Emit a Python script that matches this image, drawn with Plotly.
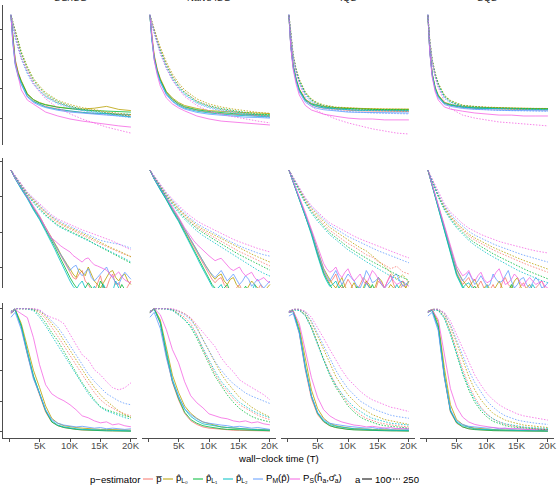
import plotly.graph_objects as go

# ---------------- data ----------------
SAMPLERS = ["SG/ISG", "Naive ISG", "IQS", "SQS"]
ESTIMATORS = ["p̅", "p̂<sub>L₀</sub>", "p̂<sub>L₁</sub>", "p̂<sub>L₂</sub>",
              "P<sub>M</sub>(p̂)", "P<sub>S</sub>(ĥ<sub>a</sub>,σ̂<sub>a</sub>)"]
COLORS = ["#F8766D", "#B79F00", "#00BA38", "#00BFC4", "#619CFF", "#F564E3"]
A_VALUES = ["100", "250"]
X_TICKS = [0, 5000, 10000, 15000, 20000]
X_TICK_LABELS = ["", "5K", "10K", "15K", "20K"]
Y_TICKS_ROW1 = [10, 20, 30, 40]
Y_TICKS_ROW2 = [10, 20, 30, 40]
Y_TICKS_ROW3 = [0, 25, 50, 75, 100]

T_ROW1 = [300, 600, 1000, 1500, 2000, 3000, 4000, 5000, 6000, 8000, 10000,
          12000, 14000, 16000, 18000, 20000]
T_ROW23 = [300, 1000, 2000, 3000, 4000, 5000, 6000, 7000, 8000, 9000, 10000,
           11000, 12000, 13000, 14000, 15000, 16000, 17000, 18000, 19000, 20000]
T_ROW2_A100 = [300, 1000, 2000, 3000, 4000, 5000, 6000, 6500, 7000, 7500, 8000,
               8500, 9000, 9500, 10000, 10500, 11000, 11500, 12000, 12500, 13000,
               13500, 14000, 14500, 15000, 15500, 16000, 16500, 17000, 17500,
               18000, 18500, 19000, 19500, 20000]

# ---- row 1 ----
R1C1_A100 = [
    [44.5, 37.5, 30, 25.5, 22.5, 18, 16, 15, 14.2, 13.3, 12.6, 12.2, 11.8, 11.7, 11.5, 11.3],
    [44.7, 37, 29.5, 25.5, 22.8, 18.5, 16.5, 15.5, 14.8, 14, 13.5, 13.3, 13.6, 14.2, 13.2, 12.8],
    [44.6, 36.5, 29, 25, 22.5, 18.2, 16.4, 15.3, 14.7, 13.9, 13.4, 13, 12.8, 12.6, 12.5, 12.3],
    [44.6, 36, 28.5, 24.5, 21.8, 17.5, 15.8, 14.8, 14, 13.2, 12.6, 12.2, 11.9, 11.8, 11.6, 11.5],
    [44.8, 35.5, 28, 24, 21.5, 17.3, 15.5, 14.5, 13.8, 12.9, 12.3, 11.9, 11.5, 11.3, 11, 10.8],
    [44.7, 36.3, 28.7, 23.7, 19.7, 16.3, 15, 13.7, 12.3, 11, 10, 9.3, 8.7, 8.3, 7.7, 7.3],
]
R1C1_A250 = [
    [44.5, 42, 38.5, 35, 31.5, 26.5, 22.5, 20, 17.8, 15.5, 14.2, 13.3, 12.7, 12.1, 11.6, 11],
    [44.7, 42.5, 39.5, 36, 32.5, 27.5, 23.5, 21, 18.8, 16.2, 14.8, 13.8, 13, 12.4, 11.9, 11.5],
    [44.7, 42.3, 39, 35.5, 32, 27, 23, 20.5, 18.3, 15.8, 14.3, 13.3, 12.6, 12, 11.4, 10.9],
    [44.6, 41.5, 37.5, 34, 30.5, 25.5, 22, 19.5, 17.5, 15.3, 14, 13, 12.3, 11.8, 11.2, 10.6],
    [44.8, 41, 37, 33.5, 30, 25, 21.5, 19.3, 17.3, 15, 13.7, 12.8, 12.1, 11.5, 11, 10.4],
    [44.7, 41.7, 37.7, 33.7, 30.3, 25.7, 21.7, 19, 16.7, 13.7, 11.7, 10, 8.7, 7.3, 6.3, 5.3],
]
R1C2_A100 = [
    [44.5, 38, 31.5, 26.5, 23.2, 18.8, 16.5, 14.9, 13.9, 12.9, 12.2, 11.8, 11.5, 11.2, 11.1, 10.9],
    [44.7, 37.5, 31, 26.5, 23.5, 19.2, 17, 15.5, 14.5, 13.5, 12.8, 12.5, 12.3, 12.1, 12, 11.8],
    [44.6, 37.2, 30.5, 26, 23, 18.8, 16.6, 15.1, 14.1, 13.1, 12.5, 12.1, 11.8, 11.6, 11.5, 11.3],
    [44.6, 37, 30.3, 25.7, 22.5, 18.3, 16, 14.6, 13.6, 12.6, 12, 11.6, 11.3, 11.1, 10.9, 10.7],
    [44.8, 36.5, 29.8, 25.3, 22.2, 18, 15.8, 14.3, 13.3, 12.2, 11.6, 11.2, 10.9, 10.6, 10.5, 10.3],
    [44.7, 37, 29.7, 24.7, 21, 17, 15, 13.7, 12.7, 11, 10, 9.3, 9, 8.7, 8.3, 8],
]
R1C2_A250 = [
    [44.5, 42.2, 39.7, 36.3, 33.3, 28.3, 24.3, 21.3, 19, 16, 14.3, 13.3, 12.7, 12, 11.3, 11],
    [44.7, 42.5, 40, 36.8, 34, 29, 25, 22, 19.7, 16.7, 15, 14, 13.3, 12.7, 12.2, 11.9],
    [44.7, 42.2, 39.5, 36, 33, 28, 24, 21, 18.8, 15.9, 14.4, 13.5, 12.8, 12.2, 11.7, 11.4],
    [44.6, 41.8, 39, 35.5, 32.3, 27.3, 23.4, 20.5, 18.3, 15.5, 14, 13.1, 12.4, 11.8, 11.3, 11],
    [44.8, 41.5, 38.5, 35, 31.8, 26.8, 23, 20.2, 18, 15.2, 13.7, 12.7, 12, 11.4, 10.9, 10.5],
    [44.7, 42, 39, 35.5, 32, 27, 23, 20, 17.5, 14.5, 12.7, 11.5, 10.7, 10, 9.3, 8.7],
]
R1C3_A100 = [
    [44.5, 34.5, 27.5, 22.8, 19.5, 16.1, 14.7, 14, 13.6, 13.2, 12.9, 12.7, 12.6, 12.6, 12.5, 12.5],
    [44.7, 35, 28, 23.3, 20, 16.6, 15.2, 14.6, 14.2, 13.8, 13.6, 13.4, 13.4, 13.3, 13.3, 13.3],
    [44.6, 34.8, 27.8, 23.1, 19.8, 16.4, 15, 14.4, 14, 13.6, 13.4, 13.2, 13.2, 13.1, 13.1, 13.1],
    [44.6, 34.5, 27.5, 22.8, 19.5, 16.1, 14.8, 14.1, 13.7, 13.3, 13.1, 12.9, 12.9, 12.8, 12.8, 12.8],
    [44.8, 34, 27, 22.3, 19, 15.6, 14.2, 13.5, 13.1, 12.6, 12.3, 12.2, 12.1, 12, 12, 12],
    [44.7, 34, 26.5, 21.5, 18, 14.5, 13, 12.2, 11.6, 10.9, 10.3, 10, 10, 9.7, 9.7, 9.7],
]
R1C3_A250 = [
    [44.5, 37.7, 31, 26, 22.7, 18.5, 16.2, 15, 14.3, 13.6, 13.3, 13, 12.9, 12.8, 12.7, 12.7],
    [44.7, 38.2, 31.6, 26.6, 23.3, 19, 16.7, 15.4, 14.7, 14, 13.7, 13.5, 13.4, 13.3, 13.3, 13.2],
    [44.7, 38, 31.3, 26.3, 23, 18.7, 16.4, 15.2, 14.5, 13.8, 13.5, 13.3, 13.2, 13.1, 13, 13],
    [44.6, 37.5, 30.8, 25.8, 22.5, 18.3, 16, 14.8, 14.1, 13.4, 13.1, 12.9, 12.8, 12.7, 12.6, 12.6],
    [44.8, 37, 30.3, 25.3, 22, 17.8, 15.5, 14.3, 13.6, 12.9, 12.5, 12.2, 12, 11.9, 11.8, 11.7],
    [44.7, 37.5, 30.5, 25.3, 21.7, 17, 14.3, 12.7, 11.7, 10, 8.7, 7.7, 6.7, 6, 5.3, 5],
]
R1C4_A100 = [
    [44.5, 32.8, 24.8, 20.1, 17.5, 15.2, 14.5, 14.1, 13.8, 13.5, 13.4, 13.2, 13.1, 13.1, 13, 13],
    [44.7, 33.3, 25.3, 20.6, 18, 15.6, 14.9, 14.5, 14.2, 13.9, 13.8, 13.6, 13.6, 13.5, 13.5, 13.5],
    [44.6, 33, 25, 20.3, 17.7, 15.4, 14.7, 14.3, 14, 13.7, 13.6, 13.5, 13.4, 13.4, 13.4, 13.4],
    [44.6, 32.8, 24.8, 20.1, 17.5, 15.2, 14.6, 14.2, 13.9, 13.6, 13.5, 13.4, 13.3, 13.3, 13.3, 13.2],
    [44.8, 32.3, 24.3, 19.6, 17.1, 14.8, 14.2, 13.8, 13.5, 13.2, 13, 12.9, 12.8, 12.8, 12.7, 12.7],
    [44.7, 32.5, 24, 19, 16.3, 14, 13.3, 12.9, 12.6, 12, 11.7, 11.3, 11.3, 11, 11, 11],
]
R1C4_A250 = [
    [44.5, 36, 29.3, 24.7, 21.4, 17.5, 15.8, 14.9, 14.3, 14, 13.7, 13.6, 13.4, 13.3, 13.3, 13.3],
    [44.7, 36.6, 30, 25.3, 22, 18, 16.2, 15.3, 14.6, 14.2, 13.9, 13.8, 13.6, 13.6, 13.5, 13.5],
    [44.7, 36.3, 29.7, 25, 21.7, 17.7, 16, 15.1, 14.5, 14.1, 13.8, 13.7, 13.5, 13.5, 13.4, 13.4],
    [44.6, 35.8, 29.2, 24.5, 21.2, 17.3, 15.6, 14.8, 14.2, 13.8, 13.5, 13.4, 13.3, 13.2, 13.2, 13.1],
    [44.8, 35.5, 28.7, 24, 20.8, 16.9, 15.2, 14.4, 13.8, 13.3, 13, 12.9, 12.8, 12.7, 12.7, 12.6],
    [44.7, 36, 29, 24, 20.5, 15.8, 13.5, 12.3, 11.3, 10.3, 9.7, 9, 8.7, 8.3, 8, 7.7],
]

# ---- row 2 (a = 100 on the finer grid T_ROW2_A100) ----
R2C1_A100 = [
    [37.7, 35.3, 32.5, 29.9, 26.8, 24.2, 21, 19.6, 18.2, 16.5, 14.8, 13.2, 11.5, 10, 8.5, 7, 6.5, 8, 9, 6, 5, 3.5, 3, 5.5, 7.5, 4, 4, 6.5, 8, 5, 5.5, 3, 3, 4.5, 6],
    [37.7, 35.4, 32.6, 30, 27, 24.4, 21.3, 19.9, 18.5, 16.9, 15.3, 13.6, 12, 10.8, 9.5, 8, 7, 9.5, 8.5, 7.5, 10, 8, 6, 5, 4, 5.5, 7, 8.5, 9, 7, 6, 7.5, 8, 6, 5],
    [37.7, 35.3, 32.4, 29.8, 26.6, 23.8, 20.6, 19.1, 17.5, 15.8, 14, 12.2, 10.5, 8.7, 7, 5.5, 4, 3, 3, 4, 5.5, 4, 3, 3, 6, 4.5, 3, 3, 4, 3, 3, 5, 3.5, 3, 3.5],
    [37.7, 35.2, 32.2, 29.5, 26.3, 23.5, 20.2, 18.6, 17, 15.1, 13.2, 11.3, 9.5, 7.8, 6, 4.5, 3.5, 5, 6, 4, 3, 3, 4.5, 3, 3, 5, 3, 3.5, 3, 6, 4, 3, 3, 4, 3],
    [37.7, 35.3, 32.5, 29.8, 26.8, 24, 21, 19.5, 18, 16.4, 14.8, 13.3, 11.8, 10.4, 9, 10, 10.5, 8.5, 7.5, 8.5, 9.5, 7, 6, 7, 8, 9, 10, 8, 7, 5.5, 5, 7, 8.5, 7.5, 6.5],
    [37.7, 35.4, 32.9, 30.3, 27.4, 24.6, 21.1, 19.6, 18.3, 17.5, 16.9, 16, 15.4, 14.8, 14.3, 13.3, 12.6, 12, 11.4, 12.3, 12.6, 11.5, 10.6, 10.3, 10, 9.5, 9.1, 8, 7.1, 7.8, 8.6, 7.2, 6.3, 5.8, 5.4],
]
R2C1_A250 = [
    [37.7, 35.8, 33.3, 30.9, 29, 27.1, 25.4, 23.9, 22.6, 21.7, 20.9, 20, 19.1, 18.3, 17.4, 16.6, 15.7, 15, 14.3, 13.6, 13],
    [37.7, 35.9, 33.5, 31.1, 29.2, 27.4, 25.7, 24.3, 23, 22, 21.3, 20.4, 19.6, 18.7, 17.9, 17, 16.1, 15.3, 14.6, 13.7, 12.9],
    [37.7, 35.7, 33.1, 30.6, 28.6, 26.6, 24.9, 23.4, 22, 21.1, 20.3, 19.4, 18.6, 17.7, 16.6, 15.7, 14.9, 14, 13.1, 12, 11.1],
    [37.7, 35.6, 33, 30.4, 28.3, 26.3, 24.6, 23.1, 21.7, 20.8, 20, 19.2, 18.4, 17.6, 16.7, 15.9, 15, 14.1, 13.3, 12.4, 11.4],
    [37.7, 35.9, 33.6, 31.2, 29.4, 27.6, 25.9, 24.5, 23.3, 22.4, 21.6, 20.7, 19.9, 19.1, 18.3, 17.6, 17.2, 16.9, 16.5, 16, 15.4],
    [37.7, 36, 33.7, 31.4, 29.7, 28, 26.3, 24.9, 23.7, 22.9, 22.3, 21.4, 20.6, 20, 19.4, 18.6, 18, 17.4, 16.6, 15.7, 14.9],
]
R2C2_A100 = [
    [37.7, 35.2, 32.3, 29.6, 26.4, 23.6, 20.4, 19, 17.5, 15.8, 14.2, 12.6, 11, 9.5, 8, 6.5, 5.5, 6.5, 7, 5, 4, 3.5, 3, 4, 5, 3, 3, 4, 3, 3, 3.5, 5, 3, 3, 3.5],
    [37.7, 35.3, 32.5, 29.8, 26.7, 24, 20.8, 19.4, 18, 16.4, 14.8, 13.2, 11.6, 10.3, 9, 7.5, 6.5, 7.5, 8, 6, 5, 6.5, 7, 5, 4, 3, 3, 4.5, 6, 5, 4, 3, 3, 4, 5],
    [37.7, 35.2, 32.2, 29.4, 26.2, 23.3, 20, 18.4, 16.8, 15, 13.3, 11.6, 10, 8.2, 6.5, 5, 4, 3, 3, 4, 5, 3, 3, 3.5, 3, 3, 4.5, 3, 3, 3, 4, 3, 3, 3, 4],
    [37.7, 35.1, 32, 29.2, 25.9, 23, 19.6, 18, 16.4, 14.6, 12.8, 11, 9.3, 7.6, 6, 4.5, 3.5, 4, 5, 3, 3, 3, 3, 4, 3, 3, 3, 3, 3, 5, 3, 3, 3, 3, 3],
    [37.7, 35.3, 32.4, 29.7, 26.6, 23.8, 20.7, 19.3, 17.8, 16.2, 14.6, 13, 11.5, 10.2, 8.8, 7.8, 7, 8, 9, 7.5, 6, 7, 8, 6.5, 5, 6, 7.5, 6.5, 4.5, 5.5, 6.5, 5, 4, 5, 6],
    [37.7, 35.4, 32.8, 30.1, 27.1, 24.3, 21.2, 19.9, 18.6, 17.5, 16.5, 15.6, 14.7, 14, 13.2, 12.5, 11.8, 12.2, 12.5, 11.5, 10.5, 9.5, 9, 9.5, 10, 8.5, 7.5, 8, 8.5, 7, 6, 6.5, 7, 6, 5.5],
]
R2C2_A250 = [
    [37.7, 35.7, 33.1, 30.5, 28.4, 26.3, 24.5, 22.9, 21.4, 20.3, 19.3, 18.3, 17.3, 16.3, 15.3, 14.4, 13.6, 12.7, 11.9, 11.1, 10.3],
    [37.7, 35.8, 33.3, 30.8, 28.7, 26.7, 24.9, 23.3, 21.9, 20.8, 19.9, 18.9, 18, 17.1, 16.2, 15.3, 14.5, 13.7, 12.9, 12.1, 11.4],
    [37.7, 35.6, 32.9, 30.3, 28.1, 26, 24.1, 22.5, 21, 19.8, 18.7, 17.6, 16.6, 15.5, 14.5, 13.5, 12.6, 11.7, 10.8, 9.9, 9.1],
    [37.7, 35.5, 32.7, 30, 27.7, 25.5, 23.6, 21.9, 20.3, 19, 17.9, 16.7, 15.6, 14.4, 13.3, 12.2, 11.1, 10.1, 9.1, 8.2, 7.4],
    [37.7, 35.9, 33.5, 31, 29, 27, 25.3, 23.8, 22.4, 21.4, 20.4, 19.5, 18.6, 17.7, 16.8, 16, 15.3, 14.6, 14, 13.5, 13.1],
    [37.7, 36, 33.7, 31.3, 29.4, 27.6, 25.9, 24.5, 23.2, 22.2, 21.3, 20.4, 19.5, 18.7, 17.9, 17.2, 16.5, 15.9, 15.3, 14.8, 14.3],
]
R2C3_A100 = [
    [37.7, 34.3, 29.6, 25, 19.8, 14, 8.8, 7, 5.5, 6.5, 8, 5, 4, 4.5, 6.5, 5, 3, 3.5, 5, 7, 6, 4, 3, 3.5, 6, 5, 4, 6, 8, 5, 3, 3.5, 5, 4, 3],
    [37.7, 34.4, 29.8, 25.3, 20.3, 14.8, 9.6, 8, 6.5, 5, 4, 5.5, 7, 4.5, 3, 4, 5.5, 3.5, 3, 4, 6, 5, 3, 4.5, 7, 6, 4, 3.5, 5, 4, 3, 4.5, 6, 4, 6],
    [37.7, 34.2, 29.5, 24.8, 19.6, 13.7, 8.3, 6.5, 4.8, 3.5, 3, 4, 5, 3, 3, 3, 3, 4.5, 3, 3, 3, 3, 5, 3, 3, 3, 3, 4, 3, 3, 3, 3, 3, 3, 3],
    [37.7, 34.1, 29.3, 24.5, 19.2, 13.2, 7.8, 6, 4.5, 5, 6, 4, 3, 3, 4, 3, 3, 3, 3, 3, 5.5, 4, 3, 3, 3, 4, 3, 3, 3, 3, 5, 3.5, 3, 3, 3],
    [37.7, 34.3, 29.7, 25.2, 20.1, 14.5, 9.3, 7.5, 6, 7.5, 9, 7, 5, 6.5, 8, 7, 6, 4.5, 4, 6, 9, 7.5, 5.5, 6, 7, 5, 4, 5, 6, 7.5, 8, 6, 4.5, 5, 6],
    [37.7, 34.4, 30, 25.6, 20.8, 15.6, 11, 9.5, 8.5, 9, 10, 8, 7, 8.5, 9.5, 7.5, 6, 7, 8, 6, 5, 7, 9, 8, 6.5, 5.5, 4, 6, 7.5, 6, 5, 5.5, 6, 5, 4.5],
]
R2C3_A250 = [
    [37.7, 35.3, 31.8, 28.8, 26.2, 24.1, 22.3, 20.5, 19.3, 18, 16.7, 15.8, 14.6, 13.5, 12.8, 11.5, 10.6, 9.5, 10.2, 8.6, 8],
    [37.7, 35.4, 32.1, 29.2, 26.7, 24.7, 23, 21.3, 20.1, 18.9, 17.6, 16.6, 15.5, 14.6, 13.2, 11.8, 10.2, 8.5, 6.5, 7.8, 5.5],
    [37.7, 35.2, 31.6, 28.5, 25.8, 23.6, 21.7, 19.8, 18.4, 17, 15.7, 14.6, 13.5, 12.5, 11.5, 10.6, 9.6, 8.8, 7.8, 7, 6.2],
    [37.7, 35.1, 31.4, 28.2, 25.4, 23.1, 21.1, 19.2, 17.8, 16.3, 14.9, 13.8, 12.6, 11.5, 10.5, 9.4, 8.4, 7.4, 6.5, 5.6, 4.8],
    [37.7, 35.5, 32.3, 29.5, 27.1, 25.2, 23.6, 22, 20.9, 19.8, 18.7, 17.9, 17, 16.2, 15.4, 14.6, 13.9, 13.1, 12.5, 11.8, 11.2],
    [37.7, 35.6, 32.5, 29.8, 27.5, 25.7, 24.1, 22.6, 21.6, 20.6, 19.6, 18.8, 18, 17.3, 16.5, 15.8, 15.1, 14.5, 13.8, 13.2, 12.6],
]
R2C4_A100 = [
    [37.7, 33.3, 27.5, 21.4, 14.5, 8.5, 5, 6, 7, 5, 3.5, 4.5, 6, 4, 3, 3.5, 5, 3, 3, 5.5, 7, 5, 4, 3, 3, 4.5, 5.5, 3.5, 3, 3.5, 4, 5, 6, 4, 3],
    [37.7, 33.5, 27.8, 21.9, 15.2, 9.5, 6.2, 5, 4, 5.5, 6.5, 4.5, 3, 4, 5, 3.5, 3, 4.5, 6, 4, 3, 3.5, 4, 6, 7, 4.5, 3, 4, 5, 3.5, 3, 3, 4, 3.5, 3],
    [37.7, 33.3, 27.4, 21.2, 14.2, 8, 4.5, 3.5, 3, 3.5, 4.5, 3, 3, 3, 3, 3, 4, 3, 3, 3, 3, 3, 5, 3, 3, 3, 3, 3, 4, 3, 3, 3, 3, 3, 4],
    [37.7, 33.2, 27.2, 21, 13.8, 7.6, 4, 5, 5.5, 4, 3, 3, 3, 3.5, 4.5, 3, 3, 3, 3, 3, 4, 3, 3, 3, 3, 3, 4, 3, 3, 5, 3.5, 3, 3, 3, 3],
    [37.7, 33.4, 27.7, 21.8, 15, 9.2, 6, 7, 8.5, 6.5, 5, 6, 7.5, 6, 4.5, 5, 8, 6.5, 5.5, 6, 7.5, 9, 6, 4, 5, 6.5, 7, 5, 4, 5.5, 7, 6, 4, 4.5, 5.5],
    [37.7, 33.6, 28, 22.3, 15.8, 10.3, 7.5, 8, 9, 7, 6, 7.5, 8.5, 6.5, 5.5, 6, 7, 8.5, 9.5, 7, 5, 5.5, 6.5, 8, 7, 5.5, 4.5, 6, 7, 6, 5, 5.5, 6, 4.5, 4],
]
R2C4_A250 = [
    [37.7, 34.8, 30.4, 26.9, 24.3, 22.2, 20.4, 18.9, 17.7, 16.7, 15.8, 14.9, 14.1, 13.3, 12.6, 11.8, 11.1, 10.4, 9.8, 9.1, 8.5],
    [37.7, 34.9, 30.6, 27.2, 24.6, 22.6, 20.9, 19.4, 18.3, 17.3, 16.5, 15.6, 14.8, 14.1, 13.3, 12.6, 11.9, 11.3, 10.6, 10, 9.4],
    [37.7, 34.7, 30.2, 26.6, 23.9, 21.7, 19.8, 18.2, 16.9, 15.8, 14.8, 13.8, 12.9, 12, 11.1, 10.3, 9.5, 8.7, 8, 7.3, 6.6],
    [37.7, 34.6, 30, 26.3, 23.5, 21.2, 19.3, 17.6, 16.2, 15, 13.9, 12.9, 11.9, 10.9, 10, 9.1, 8.3, 7.5, 6.8, 6.1, 5.5],
    [37.7, 35, 30.9, 27.6, 25.1, 23.2, 21.6, 20.2, 19.1, 18.2, 17.4, 16.6, 15.9, 15.2, 14.6, 14, 13.4, 12.9, 12.4, 11.9, 11.4],
    [37.7, 35.2, 31.3, 28.1, 25.7, 23.9, 22.4, 21.1, 20.1, 19.3, 18.6, 17.9, 17.3, 16.8, 16.3, 15.8, 15.4, 15, 14.6, 14.3, 14],
]

# ---- row 3 ----
R3C1_A100 = [
    [96, 99, 85, 63, 44, 30, 16, 8, 5, 3.5, 2.5, 2, 1.5, 1.5, 1.2, 1, 1, 0.8, 0.8, 0.6, 0.6],
    [97, 99.5, 88, 68, 50, 36, 21, 11, 7, 5, 4, 3.5, 3, 2.5, 2.5, 2, 2, 1.8, 1.6, 1.5, 1.4],
    [96.5, 99.2, 86, 64, 45, 31, 17, 8, 5, 3.5, 2.5, 2, 1.6, 1.3, 1.2, 1, 0.8, 0.8, 0.7, 0.6, 0.5],
    [96.5, 99, 85.5, 64.5, 45.5, 31.5, 17.5, 9, 5.5, 4, 3, 2.5, 2, 1.8, 1.5, 1.3, 1.2, 1, 1, 0.9, 0.8],
    [93, 97, 83, 62, 43, 31, 18, 10, 7, 5.5, 5, 4, 4.5, 3.5, 3, 3.5, 2.5, 3, 2.5, 2, 2.5],
    [96.7, 99.2, 95.9, 92.7, 76.4, 54.5, 38.2, 30.9, 27.6, 25.2, 22, 17.9, 13, 11.4, 8.9, 7.3, 8.1, 5.7, 6.5, 4.9, 4.1],
]
R3C1_A250 = [
    [97.6, 100, 100, 100, 99.5, 97, 92, 85, 78, 70, 62, 54, 46, 39, 32, 26, 22, 19, 16.5, 14.5, 13],
    [97.6, 100, 100, 100, 99.8, 98, 94, 88, 82, 74, 66, 58, 50, 43, 36, 30, 25, 21, 17, 14, 11.5],
    [97.6, 100, 100, 100, 99.2, 95.1, 88.6, 80.5, 74, 65, 56.9, 48, 39.8, 32.5, 26, 20.3, 17.9, 16.3, 14.6, 13, 12.2],
    [97.6, 100, 100, 99.8, 98.5, 93, 86, 78, 70, 62, 54, 46, 38, 31, 25, 20, 17, 15, 13, 11.5, 10.5],
    [97.6, 100, 100, 100, 99.8, 98.5, 95, 90, 85, 78, 70, 62, 54, 47, 41, 36, 31, 28, 25, 23, 22],
    [97.6, 100, 100, 100, 100, 99.2, 95.1, 92.7, 91.1, 87.8, 78.9, 70.7, 62.6, 58.5, 50.4, 46.3, 40.7, 35.8, 34.1, 35.8, 39.8],
]
R3C2_A100 = [
    [96.5, 100, 88, 62, 40, 26, 15, 9, 6, 4, 3, 2.5, 2, 1.5, 1.3, 1.2, 1, 1, 0.8, 0.8, 0.7],
    [97, 100, 91, 67, 46, 32, 21, 15, 11, 8, 6.5, 5, 4, 3.5, 3, 2.5, 2.5, 2, 2, 1.8, 1.6],
    [96.5, 100, 89, 63, 41, 27, 16, 10, 7, 5, 4, 3, 2.5, 2, 1.8, 1.5, 1.3, 1.2, 1, 1, 0.9],
    [96.5, 99.5, 88.5, 64, 42.5, 29, 18.5, 12.5, 9, 6.5, 5.5, 4.5, 4, 3.5, 3, 2.5, 2.2, 2, 1.8, 1.6, 1.5],
    [93, 97, 84, 60, 41, 28.5, 19, 14, 10.5, 8, 7, 6, 5.5, 5, 4, 4.5, 3.5, 3, 3.5, 2.5, 2],
    [96.7, 100, 95.1, 82.9, 66.7, 56.1, 40.7, 29.3, 23.6, 19.5, 14.6, 13, 11.4, 10.6, 8.9, 8.1, 8.9, 7.3, 8.1, 6.5, 5.7],
]
R3C2_A250 = [
    [97.6, 100, 100, 100, 99, 96, 93, 88, 79, 67, 57, 47, 39, 33, 27, 22, 19, 16, 13.5, 11.5, 10],
    [97.6, 100, 100, 100, 99.5, 98, 96, 92, 85, 75, 66, 56, 47, 40, 34, 28, 24, 20, 17, 14.5, 12],
    [97.6, 100, 100, 100, 99, 95.5, 91, 85, 76, 65, 55, 45, 37, 30, 24, 19, 15.5, 12.5, 10.5, 9, 8],
    [97.6, 100, 100, 99.8, 98.5, 95, 91, 86, 78, 68, 58, 49, 41, 35, 29, 24, 20.5, 17.5, 15, 13, 11.5],
    [97.6, 100, 100, 100, 99.5, 97.5, 95, 91, 84, 75, 66, 57, 50, 44, 39, 35, 31.5, 29, 27, 25, 23],
    [97.6, 100, 100, 100, 100, 98.4, 95.9, 92.7, 87, 81.3, 74.8, 69.1, 60.2, 53.7, 48.8, 42.3, 39, 35.8, 33.3, 30.1, 26],
]
R3C3_A100 = [
    [97, 98, 80, 50, 27, 14, 8, 5, 3.5, 2.5, 2, 1.8, 1.5, 1.3, 1.2, 1, 1, 0.8, 0.8, 0.7, 0.7],
    [97.5, 98.5, 85, 58, 34, 19, 11, 7, 5, 4, 3, 2.5, 2.5, 2, 2, 1.8, 1.8, 1.6, 1.5, 1.5, 1.4],
    [97, 98, 82, 53, 29, 15, 8.5, 5, 3.5, 2.5, 2, 1.6, 1.4, 1.2, 1, 1, 0.9, 0.8, 0.8, 0.7, 0.6],
    [97, 97.5, 81, 52, 29, 15.5, 9, 6, 4.5, 3.5, 3, 2.5, 2, 1.8, 1.6, 1.5, 1.3, 1.2, 1.1, 1, 1],
    [94, 96, 80, 51, 29, 16, 10, 7, 6, 5, 4.5, 4, 3.5, 3, 3.5, 2.5, 3, 2, 2.5, 2, 2],
    [97, 98, 88, 66, 44, 28, 18, 13, 10, 8, 6.5, 5.5, 5, 4, 4.5, 3.5, 3, 3.5, 2.5, 3, 2.5],
]
R3C3_A250 = [
    [97.6, 99.5, 99, 95, 85, 72, 59, 48, 38, 30, 23, 18, 14, 11, 9, 7.5, 6.5, 5.5, 5, 4.5, 4],
    [97.6, 99.5, 99.5, 97, 89, 78, 66, 55, 45, 37, 30, 25, 20, 17, 14, 12, 10, 9, 8, 7, 6],
    [97.6, 99.2, 99, 95, 85, 72, 58, 46, 36, 28, 21, 16, 12, 9.5, 7.5, 6, 5, 4.5, 4, 3.5, 3],
    [97.6, 99, 98.5, 94, 84, 71, 58, 47, 38, 31, 25, 20, 16.5, 13.5, 11, 9.5, 8, 7, 6.5, 6, 5.5],
    [97.6, 99.5, 99.5, 97, 90, 80, 69, 59, 50, 42, 35, 30, 25, 22, 19, 17, 15, 13.5, 12.5, 11.5, 11],
    [97.6, 99.5, 99.5, 98, 93, 85, 76, 67, 58, 50, 43, 38, 33, 29, 26, 24, 22, 20, 19, 17.5, 16.5],
]
R3C4_A100 = [
    [97, 99, 85, 44, 16, 7, 4, 2.5, 2, 1.5, 1.2, 1, 1, 0.8, 0.8, 0.7, 0.7, 0.6, 0.6, 0.5, 0.5],
    [97.5, 99.5, 89, 52, 22, 10, 6, 4, 3, 2.5, 2, 1.8, 1.6, 1.5, 1.4, 1.3, 1.2, 1.2, 1.1, 1, 1],
    [97, 99, 86, 46, 17, 7.5, 4, 2.5, 1.8, 1.4, 1.2, 1, 0.9, 0.8, 0.7, 0.7, 0.6, 0.6, 0.5, 0.5, 0.5],
    [97, 98.5, 84, 45, 17, 8, 5, 3.5, 2.5, 2, 1.8, 1.5, 1.4, 1.2, 1.1, 1, 1, 0.9, 0.9, 0.8, 0.8],
    [94, 97, 82, 44, 18, 9, 6, 4.5, 4, 3.5, 3, 3.5, 2.5, 3, 2, 2.5, 2, 2, 1.5, 2, 1.5],
    [97, 99, 91, 62, 35, 20, 12, 8, 6, 5, 4, 3.5, 3, 3, 2.5, 2.5, 2, 2.2, 1.8, 2, 1.6],
]
R3C4_A250 = [
    [97.6, 99.5, 99, 94, 82, 66, 51, 38, 28, 20, 14.5, 10.5, 8, 6, 5, 4, 3.5, 3, 2.5, 2.2, 2],
    [97.6, 99.5, 99.5, 96, 86, 72, 58, 45, 34, 26, 20, 15, 12, 9.5, 8, 6.5, 5.5, 5, 4.5, 4, 3.5],
    [97.6, 99.2, 99, 93, 80, 63, 47, 34, 24, 17, 12, 8.5, 6.5, 5, 4, 3.5, 3, 2.5, 2.2, 2, 1.8],
    [97.6, 99, 98.5, 92, 79, 63, 48, 36, 26, 19, 14, 10.5, 8, 6.5, 5.5, 4.5, 4, 3.5, 3.2, 3, 2.8],
    [97.6, 99.5, 99.5, 96, 87, 75, 62, 50, 40, 32, 25, 20, 16, 13, 11, 9.5, 8.5, 7.5, 7, 6.5, 6],
    [97.6, 99.5, 99.5, 97, 90, 79, 67, 56, 46, 38, 31, 26, 22, 19, 16.5, 14.5, 13, 12, 11, 10, 9.5],
]

ROW_GRIDS = [(T_ROW1, T_ROW1), (T_ROW2_A100, T_ROW23), (T_ROW23, T_ROW23)]
ROWS = [
    [(R1C1_A100, R1C1_A250), (R1C2_A100, R1C2_A250), (R1C3_A100, R1C3_A250), (R1C4_A100, R1C4_A250)],
    [(R2C1_A100, R2C1_A250), (R2C2_A100, R2C2_A250), (R2C3_A100, R2C3_A250), (R2C4_A100, R2C4_A250)],
    [(R3C1_A100, R3C1_A250), (R3C2_A100, R3C2_A250), (R3C3_A100, R3C3_A250), (R3C4_A100, R3C4_A250)],
]

# ---------------- layout geometry ----------------
W, H = 557, 486
FONT = "Liberation Sans, Arial, DejaVu Sans, sans-serif"
FS = 9.6
COL_PX = [(3, 137), (142, 276), (281, 415), (420, 554)]
ROW_PX = [(5, 145), (158, 288), (302.5, 438)]
Y_RANGES = [[1.33, 48], [4.0, 41.14], [-5, 105]]
Y_TICKS = [Y_TICKS_ROW1, Y_TICKS_ROW2, Y_TICKS_ROW3]
DASHES = ["solid", "1.5px,1.5px"]
AXIS_COLOR = "#4d4d4d"


def px_x(p):
    return p / W


def px_y(p):
    return 1 - p / H


fig = go.Figure()
layout = {}
annotations = []
shapes = []
for r, cols in enumerate(ROWS):
    for c, pair in enumerate(cols):
        k = r * 4 + c + 1
        xa = "x" if k == 1 else f"x{k}"
        ya = "y" if k == 1 else f"y{k}"
        for a_i, series_set in enumerate(pair):
            tgrid = ROW_GRIDS[r][a_i]
            for e_i, vals in enumerate(series_set):
                fig.add_trace(go.Scatter(
                    x=tgrid, y=vals, mode="lines", xaxis=xa, yaxis=ya,
                    line=dict(color=COLORS[e_i], width=0.8, dash=DASHES[a_i]),
                    showlegend=False, hoverinfo="skip"))
        bottom = (r == 2)
        left = (c == 0)
        layout["xaxis" if k == 1 else f"xaxis{k}"] = dict(
            domain=[px_x(COL_PX[c][0]), px_x(COL_PX[c][1])],
            anchor=ya, range=[-1000, 21000], showgrid=False, zeroline=False,
            showline=bottom, linecolor=AXIS_COLOR, linewidth=0.8,
            ticks="outside" if bottom else "", ticklen=3, tickcolor=AXIS_COLOR, tickwidth=0.8,
            tickvals=X_TICKS, showticklabels=False)
        layout["yaxis" if k == 1 else f"yaxis{k}"] = dict(
            domain=[px_y(ROW_PX[r][1]), px_y(ROW_PX[r][0])],
            anchor=xa, range=Y_RANGES[r], showgrid=False, zeroline=False,
            showline=left, linecolor=AXIS_COLOR, linewidth=0.8,
            ticks="outside" if left else "", ticklen=3, tickcolor=AXIS_COLOR, tickwidth=0.8,
            tickvals=Y_TICKS[r], showticklabels=False)
        if bottom:
            # tick labels placed on the panel's own x scale, close to the axis like ggplot
            for tv, tl in zip(X_TICKS, X_TICK_LABELS):
                if tl:
                    annotations.append(dict(
                        text=tl, xref=xa, yref="paper", x=tv, y=px_y(445.5),
                        xanchor="center", yanchor="middle", showarrow=False,
                        font=dict(family=FONT, size=FS, color="#4d4d4d")))

# strip titles (mostly above the visible page, as in the reference)
for c, name in enumerate(SAMPLERS):
    annotations.append(dict(text=name, xref="paper", yref="paper",
                            x=px_x((COL_PX[c][0] + COL_PX[c][1]) / 2), y=px_y(-2),
                            xanchor="center", yanchor="middle", showarrow=False,
                            font=dict(family=FONT, size=FS, color="#1a1a1a")))
# x axis title
annotations.append(dict(text="wall−clock time (T)", xref="paper", yref="paper",
                        x=px_x((COL_PX[0][0] + COL_PX[3][1]) / 2), y=px_y(458.5),
                        xanchor="center", yanchor="middle", showarrow=False,
                        font=dict(family=FONT, size=FS, color="black")))

# legend (ggplot style, drawn as keys + labels)
LEG_Y = 479
LEG_KEYS = [143, 163, 193, 223, 253, 290]
annotations.append(dict(text="p−estimator", xref="paper", yref="paper",
                        x=px_x(88), y=px_y(LEG_Y), xanchor="left", yanchor="middle",
                        showarrow=False, font=dict(family=FONT, size=FS, color="black")))
for e_i, name in enumerate(ESTIMATORS):
    x0 = LEG_KEYS[e_i]
    shapes.append(dict(type="line", xref="paper", yref="paper",
                       x0=px_x(x0), x1=px_x(x0 + 10), y0=px_y(LEG_Y), y1=px_y(LEG_Y),
                       line=dict(color=COLORS[e_i], width=1)))
    annotations.append(dict(text=name, xref="paper", yref="paper",
                            x=px_x(x0 + 11), y=px_y(LEG_Y - 1), xanchor="left", yanchor="middle",
                            showarrow=False, font=dict(family=FONT, size=FS, color="black")))
annotations.append(dict(text="a", xref="paper", yref="paper",
                        x=px_x(353), y=px_y(LEG_Y), xanchor="left", yanchor="middle",
                        showarrow=False, font=dict(family=FONT, size=FS, color="black")))
for a_i, (x0, lab) in enumerate(zip([362, 390], A_VALUES)):
    shapes.append(dict(type="line", xref="paper", yref="paper",
                       x0=px_x(x0), x1=px_x(x0 + 10), y0=px_y(LEG_Y), y1=px_y(LEG_Y),
                       line=dict(color="black", width=1, dash=DASHES[a_i])))
    annotations.append(dict(text=lab, xref="paper", yref="paper",
                            x=px_x(x0 + 11), y=px_y(LEG_Y), xanchor="left", yanchor="middle",
                            showarrow=False, font=dict(family=FONT, size=FS, color="black")))

fig.update_layout(
    width=W, height=H, margin=dict(l=0, r=0, t=0, b=0),
    paper_bgcolor="white", plot_bgcolor="white",
    showlegend=False, annotations=annotations, shapes=shapes,
    font=dict(family=FONT, size=FS), **layout)

fig.write_html("out.html")
